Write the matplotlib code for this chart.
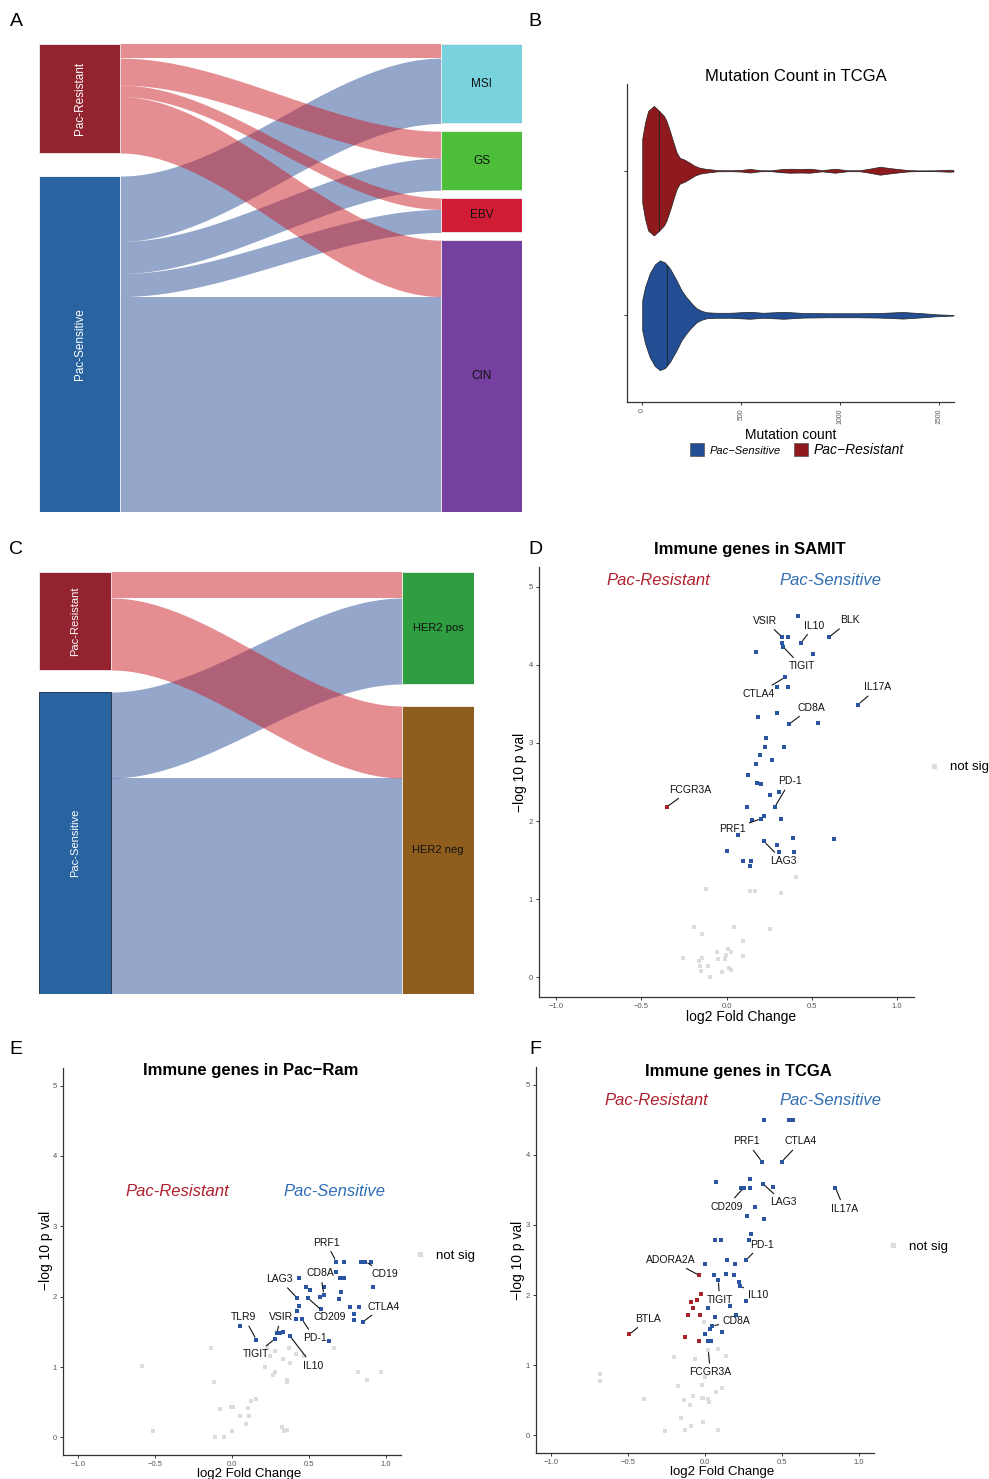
import numpy as np
import matplotlib
matplotlib.use('Agg')
import matplotlib.pyplot as plt
from matplotlib.patches import Rectangle, Patch
from matplotlib.lines import Line2D

plt.rcParams['font.family'] = ['Liberation Sans', 'DejaVu Sans']

#********************** A: response group -> TCGA subtype ******************
a_groups = ['Pac-Resistant', 'Pac-Sensitive']
a_subtypes = ['MSI', 'GS', 'EBV', 'CIN']
a_resistant = [11, 21, 9, 44]
a_sensitive = [51, 25, 18, 168]

#********************** C: response group -> HER2 status *******************
c_groups = ['Pac-Resistant', 'Pac-Sensitive']
c_her2 = ['HER2 pos', 'HER2 neg']
c_resistant = [13, 36]
c_sensitive = [43, 108]

#********************** B: mutation count violins (density outline) ********
res_count = [0, 14, 30, 59, 86, 110, 123, 140, 157, 175, 190, 215, 241, 265, 291,
             320, 342, 380, 450, 500, 545, 600, 650, 700, 748, 800, 849, 910,
             975, 1040, 1100, 1150, 1203, 1260, 1338, 1400, 1480, 1552, 1575]
res_width = [32, 48, 60, 65, 60, 55, 50, 40, 29, 18, 13, 11, 8, 5, 3,
             2, 1.5, 0.6, 0.5, 0.8, 1.8, 0.5, 0.4, 1.5, 2, 1.8, 2, 0.6,
             2, 0.5, 0.5, 2, 4, 2.5, 0.8, 0.3, 0.4, 1, 0.8]
res_median = 86
sens_count = [0, 14, 38, 64, 89, 115, 140, 174, 199, 224, 250, 275, 300, 326,
              376, 444, 545, 612, 714, 815, 949, 1084, 1202, 1320, 1421, 1489, 1575]
sens_width = [15, 28, 42, 51, 55, 53, 47, 35, 25, 18, 12, 7, 4.5, 3,
              2.5, 2.5, 3.5, 2.5, 3.5, 2.3, 2, 2, 2.3, 3.3, 2, 1, 0.3]
sens_median = 126

#********************** D: SAMIT volcano *******************************
samit_sens_fc = [0.417, 0.328, 0.363, 0.324, 0.332, 0.437, 0.600, 0.172, 0.509, 0.343,
                 0.296, 0.359, 0.772, 0.187, 0.296, 0.367, 0.534, 0.230, 0.226, 0.339,
                 0.195, 0.267, 0.175, 0.129, 0.181, 0.203, 0.308, 0.254, 0.119, 0.283,
                 0.148, 0.203, 0.222, 0.318, 0.070, 0.220, 0.392, 0.628, 0.298, 0.004,
                 0.308, 0.396, 0.096, 0.146, 0.139]
samit_sens_p = [4.62, 4.35, 4.35, 4.28, 4.23, 4.28, 4.35, 4.16, 4.14, 3.84,
                3.71, 3.71, 3.49, 3.33, 3.38, 3.24, 3.26, 3.06, 2.95, 2.95,
                2.84, 2.78, 2.73, 2.59, 2.49, 2.47, 2.37, 2.33, 2.18, 2.18,
                2.01, 2.03, 2.06, 2.03, 1.82, 1.74, 1.78, 1.77, 1.69, 1.62,
                1.61, 1.61, 1.49, 1.49, 1.43]
samit_res_fc = [-0.351]
samit_res_p = [2.18]
samit_ns_fc = [0.406, -0.123, 0.140, 0.168, 0.318, -0.191, 0.045, 0.257, -0.144, 0.099,
               -0.257, -0.144, -0.054, 0.008, 0.027, -0.004, -0.049, -0.006, 0.099, -0.161,
               -0.156, -0.107, -0.150, -0.025, 0.016, 0.029, -0.094]
samit_ns_p = [1.28, 1.13, 1.10, 1.10, 1.08, 0.64, 0.64, 0.62, 0.56, 0.46,
              0.25, 0.25, 0.32, 0.37, 0.32, 0.29, 0.24, 0.23, 0.28, 0.21,
              0.15, 0.15, 0.08, 0.07, 0.12, 0.10, 0.00]
samit_genes = ['VSIR', 'TIGIT', 'IL10', 'BLK', 'CTLA4', 'IL17A', 'CD8A', 'PD-1',
               'FCGR3A', 'PRF1', 'LAG3']
samit_gene_fc = [0.328, 0.332, 0.437, 0.600, 0.343, 0.772, 0.367, 0.283, -0.351, 0.203, 0.220]
samit_gene_p = [4.35, 4.23, 4.28, 4.35, 3.84, 3.49, 3.24, 2.18, 2.18, 2.03, 1.74]

#********************** E: Pac-Ram volcano *****************************
pacram_sens_fc = [0.678, 0.732, 0.842, 0.868, 0.905, 0.678, 0.704, 0.727, 0.435, 0.916,
                  0.479, 0.505, 0.598, 0.710, 0.598, 0.570, 0.699, 0.424, 0.494, 0.435,
                  0.424, 0.578, 0.769, 0.829, 0.792, 0.792, 0.851, 0.414, 0.455, 0.050,
                  0.158, 0.292, 0.310, 0.331, 0.279, 0.377, 0.634]
pacram_sens_p = [2.50, 2.50, 2.50, 2.50, 2.50, 2.35, 2.26, 2.26, 2.26, 2.14,
                 2.14, 2.10, 2.14, 2.07, 2.03, 1.99, 1.97, 1.98, 1.98, 1.87,
                 1.80, 1.82, 1.85, 1.85, 1.75, 1.67, 1.64, 1.68, 1.68, 1.59,
                 1.39, 1.48, 1.49, 1.50, 1.40, 1.44, 1.37]
pacram_ns_fc = [-0.138, -0.584, -0.117, -0.513, -0.110, -0.052, 0.003, -0.080, -0.008, 0.006,
                0.050, 0.104, 0.108, 0.093, 0.121, 0.158, 0.227, 0.277, 0.249, 0.217,
                0.277, 0.264, 0.331, 0.377, 0.370, 0.418, 0.466, 0.355, 0.361, 0.325,
                0.336, 0.360, 0.662, 0.821, 0.881, 0.970]
pacram_ns_p = [1.27, 1.01, 0.79, 0.09, 0.00, 0.00, 0.09, 0.41, 0.43, 0.43,
               0.30, 0.42, 0.31, 0.19, 0.52, 0.55, 1.29, 1.23, 1.16, 1.00,
               0.93, 0.88, 1.12, 1.06, 1.27, 1.19, 1.16, 0.82, 0.79, 0.15,
               0.09, 0.10, 1.27, 0.93, 0.82, 0.93]
pacram_genes = ['PRF1', 'CD19', 'CD8A', 'LAG3', 'CD209', 'CTLA4', 'TLR9', 'VSIR',
                'PD-1', 'TIGIT', 'IL10']
pacram_gene_fc = [0.678, 0.868, 0.598, 0.424, 0.494, 0.851, 0.158, 0.292, 0.455, 0.279, 0.377]
pacram_gene_p = [2.50, 2.50, 2.03, 1.98, 1.98, 1.64, 1.39, 1.48, 1.68, 1.40, 1.44]

#********************** F: TCGA volcano ********************************
tcga_sens_fc = [0.386, 0.547, 0.571, 0.371, 0.499, 0.074, 0.293, 0.236, 0.252, 0.293,
                0.375, 0.441, 0.849, 0.326, 0.274, 0.384, 0.300, 0.065, 0.104, 0.289,
                0.267, 0.143, 0.000, 0.197, 0.059, 0.139, 0.191, 0.087, 0.219, 0.228,
                0.267, 0.021, 0.160, 0.067, 0.204, 0.046, 0.032, 0.110, -0.002, 0.019,
                0.039]
tcga_sens_p = [4.50, 4.50, 4.50, 3.90, 3.90, 3.61, 3.65, 3.53, 3.53, 3.53,
               3.59, 3.54, 3.53, 3.26, 3.12, 3.09, 2.87, 2.78, 2.79, 2.78,
               2.50, 2.50, 2.44, 2.44, 2.28, 2.30, 2.28, 2.21, 2.19, 2.13,
               1.92, 1.81, 1.85, 1.69, 1.72, 1.56, 1.52, 1.48, 1.44, 1.34,
               1.34]
tcga_res_fc = [-0.037, -0.028, -0.052, -0.091, -0.076, -0.109, -0.033, -0.493, -0.128, -0.037]
tcga_res_p = [2.28, 2.01, 1.93, 1.90, 1.82, 1.72, 1.71, 1.44, 1.40, 1.34]
tcga_ns_fc = [-0.009, 0.021, 0.082, 0.137, -0.200, -0.065, -0.684, -0.684, 0.000, -0.176,
              -0.022, 0.108, 0.069, -0.400, -0.076, -0.137, -0.022, -0.011, 0.017, 0.024,
              -0.100, -0.159, -0.013, -0.089, -0.128, -0.261, 0.082]
tcga_ns_p = [1.61, 1.22, 1.23, 1.13, 1.12, 1.09, 0.88, 0.78, 0.83, 0.71,
             0.72, 0.67, 0.62, 0.52, 0.56, 0.50, 0.53, 0.53, 0.52, 0.47,
             0.44, 0.25, 0.19, 0.13, 0.08, 0.06, 0.08]
tcga_genes = ['PRF1', 'CTLA4', 'CD209', 'LAG3', 'IL17A', 'PD-1', 'ADORA2A', 'IL10',
              'TIGIT', 'BTLA', 'CD8A', 'FCGR3A']
tcga_gene_fc = [0.371, 0.499, 0.252, 0.375, 0.849, 0.267, -0.037, 0.228, 0.087, -0.493, 0.046, 0.021]
tcga_gene_p = [3.90, 3.90, 3.53, 3.59, 3.53, 2.50, 2.28, 2.13, 2.21, 1.44, 1.56, 1.22]

# label placement (data coords of the text)
samit_text = [(0.226, 4.56), (0.441, 3.98), (0.515, 4.50), (0.725, 4.57), (0.187, 3.63),
              (0.889, 3.71), (0.495, 3.45), (0.373, 2.51), (-0.212, 2.40), (0.032, 1.90),
              (0.333, 1.49)]
pacram_text = [(0.613, 2.77), (0.998, 2.32), (0.576, 2.33), (0.308, 2.25), (0.634, 1.71),
               (0.985, 1.86), (0.078, 1.71), (0.316, 1.71), (0.537, 1.41), (0.154, 1.18),
               (0.526, 1.02)]
tcga_text = [(0.271, 4.19), (0.625, 4.19), (0.141, 3.26), (0.510, 3.32), (0.906, 3.23),
             (0.369, 2.72), (-0.222, 2.50), (0.343, 2.00), (0.095, 1.93), (-0.369, 1.66),
             (0.206, 1.63), (0.035, 0.90)]

RES_NODE = '#93232E'
SENS_NODE = '#2963A0'
RES_FLOW = '#CB1F27'
SENS_FLOW = '#2B4F95'
BLUE_PT = '#2A55A3'
RED_PT = '#A8232B'
GRAY_PT = '#DCDCDC'
RES_TXT = '#B0202E'
SENS_TXT = '#2E6DB4'

W, H = 989, 1479
fig = plt.figure(figsize=(W / 100, H / 100), dpi=100)


def px_axes(l, t, r, b):
    return fig.add_axes([l / W, 1 - b / H, (r - l) / W, (b - t) / H])


def alluvial(ax, flows, left_names, right_names, right_cols, gap_l, gap_r, w,
             fs=8, sens_edge='white'):
    flows = np.array(flows, dtype=float)
    lt = flows.sum(1)
    rt = flows.sum(0)
    total = max(lt.sum() + gap_l * (len(lt) - 1), rt.sum() + gap_r * (len(rt) - 1))
    ltop = np.concatenate([[0], np.cumsum(lt)[:-1]]) + gap_l * np.arange(len(lt))
    rtop = np.concatenate([[0], np.cumsum(rt)[:-1]]) + gap_r * np.arange(len(rt))
    t = np.linspace(0, 1, 100)
    s = 3 * t ** 2 - 2 * t ** 3
    xs = w + (1 - 2 * w) * t
    flow_cols = [RES_FLOW, SENS_FLOW]
    for i in [1, 0]:
        for j in range(flows.shape[1]):
            y0 = ltop[i] + flows[i, :j].sum()
            y1 = rtop[j] + flows[:i, j].sum()
            top = y0 + (y1 - y0) * s
            ax.fill_between(xs, top, top + flows[i, j], color=flow_cols[i],
                            alpha=0.5, lw=0)
    node_cols = [RES_NODE, SENS_NODE]
    edges = ['#EEEEEE', sens_edge]
    for i, name in enumerate(left_names):
        ax.add_patch(Rectangle((0, ltop[i]), w, lt[i], facecolor=node_cols[i],
                               edgecolor=edges[i], lw=0.6))
        ax.text(w / 2, ltop[i] + lt[i] / 2, name, rotation=90, color='white',
                ha='center', va='center', fontsize=fs)
    for j, name in enumerate(right_names):
        ax.add_patch(Rectangle((1 - w, rtop[j]), w, rt[j], facecolor=right_cols[j],
                               edgecolor='#EEEEEE', lw=0.6))
        ax.text(1 - w / 2, rtop[j] + rt[j] / 2, name, color='#111111',
                ha='center', va='center', fontsize=fs)
    ax.set_xlim(0, 1)
    ax.set_ylim(total, 0)
    ax.axis('off')


def style_axes(ax):
    for sp in ['top', 'right']:
        ax.spines[sp].set_visible(False)
    for sp in ['left', 'bottom']:
        ax.spines[sp].set_color('#333333')
        ax.spines[sp].set_linewidth(0.9)
    ax.tick_params(axis='both', length=2.5, width=0.7, color='#333333',
                   labelsize=5.5, labelcolor='#555555', pad=2)


def volcano(ax, sens, res, ns, genes, gfc, gp, texts, title, title_xy, ann, leg_y,
            xlab_xy, ylab_xy, xlab_fs=10):
    ax.scatter(ns[0], ns[1], marker='s', s=9, color=GRAY_PT, lw=0, zorder=2)
    ax.scatter(sens[0], sens[1], marker='s', s=9, color=BLUE_PT, lw=0, zorder=3)
    if res is not None:
        ax.scatter(res[0], res[1], marker='s', s=9, color=RED_PT, lw=0, zorder=3)
    for g, x, y, (tx, ty) in zip(genes, gfc, gp, texts):
        ax.annotate(g, xy=(x, y), xytext=(tx, ty), ha='center', va='center',
                    fontsize=7.5, color='#111111', zorder=4,
                    arrowprops=dict(arrowstyle='-', lw=0.8, color='#111111',
                                    shrinkA=1, shrinkB=2))
    ax.set_xlim(-1.1, 1.1)
    ax.set_ylim(-0.25, 5.25)
    ax.set_xticks([-1.0, -0.5, 0.0, 0.5, 1.0])
    ax.set_xticklabels(['\u22121.0', '\u22120.5', '0.0', '0.5', '1.0'])
    ax.set_yticks([0, 1, 2, 3, 4, 5])
    style_axes(ax)
    ax.set_xlabel('log2 Fold Change', fontsize=xlab_fs, va='center')
    ax.set_ylabel('\u2212log 10 p val', fontsize=10, va='center')
    ax.xaxis.set_label_coords(*xlab_xy)
    ax.yaxis.set_label_coords(*ylab_xy)
    ax.text(title_xy[0], title_xy[1], title, transform=ax.transAxes, ha='center',
            va='center', fontsize=12, fontweight='bold')
    ax.text(ann[0], ann[2], 'Pac-Resistant', color=RES_TXT, style='italic',
            fontsize=12, ha='center', va='center')
    ax.text(ann[1], ann[2], 'Pac-Sensitive', color=SENS_TXT, style='italic',
            fontsize=12, ha='center', va='center')
    h = Line2D([], [], marker='s', ls='', color=GRAY_PT, markersize=3.5)
    ax.legend([h], ['not sig'], loc='center left', bbox_to_anchor=(1.04, leg_y),
              frameon=False, fontsize=9.5, handlelength=0.8, handletextpad=0.8,
              borderaxespad=0, borderpad=0)


# ---------------- A ----------------
axA = px_axes(39, 44, 522, 512)
alluvial(axA, [a_resistant, a_sensitive], a_groups, a_subtypes,
         ['#79D3DE', '#4CBE3A', '#D01C34', '#7540A0'], 18, 6, 81 / 483, fs=8.5)

# ---------------- C ----------------
axC = px_axes(39, 572, 474, 994)
alluvial(axC, [c_resistant, c_sensitive], c_groups, c_her2,
         ['#2E9E40', '#8F5E1E'], 11, 11, 72 / 435, fs=8, sens_edge='#1A2A40')

# ---------------- B ----------------
axB = px_axes(627, 84, 954, 402)
spacing = 145.0
for c, xs, ws, med, col in [(2, res_count, res_width, res_median, '#8E1A1E'),
                             (1, sens_count, sens_width, sens_median, '#234E94')]:
    half = np.array(ws) / spacing
    axB.fill_between(xs, c - half, c + half, color=col, lw=0.5, edgecolor='#222222')
    hm = np.interp(med, xs, half)
    axB.plot([med, med], [c - hm, c + hm], color='#222222', lw=0.6)
axB.set_xlim(-77, 1578)
axB.set_ylim(0.4, 2.6)
axB.set_yticks([1, 2])
axB.set_yticklabels([])
axB.set_xticks([0, 500, 1000, 1500])
style_axes(axB)
axB.tick_params(axis='x', labelrotation=90, labelsize=5)
axB.set_xlabel('Mutation count', fontsize=10, labelpad=3)
axB.text(0.515, 1.023, 'Mutation Count in TCGA', transform=axB.transAxes,
         ha='center', va='center', fontsize=12)
legB = axB.legend([Patch(facecolor='#234E94', edgecolor='#555555', lw=0.5),
                   Patch(facecolor='#8E1A1E', edgecolor='#555555', lw=0.5)],
                  ['Pac\u2212Sensitive', 'Pac\u2212Resistant'], ncol=2,
                  loc='center', bbox_to_anchor=(0.52, -0.15), frameon=False,
                  handlelength=1.0, handleheight=1.1, handletextpad=0.4,
                  columnspacing=1.0, borderpad=0)
legB.get_texts()[0].set_fontsize(8)
legB.get_texts()[1].set_fontsize(10)
for t in legB.get_texts():
    t.set_style('italic')

# ---------------- D ----------------
axD = px_axes(539, 567, 914, 997)
volcano(axD, (samit_sens_fc, samit_sens_p), (samit_res_fc, samit_res_p),
        (samit_ns_fc, samit_ns_p), samit_genes, samit_gene_fc, samit_gene_p,
        samit_text, 'Immune genes in SAMIT', (0.562, 1.041), (-0.402, 0.612, 5.08), 0.534,
        (0.539, -0.047), (-0.05, 0.523))

# ---------------- E ----------------
axE = px_axes(63, 1068, 401, 1455)
volcano(axE, (pacram_sens_fc, pacram_sens_p), None, (pacram_ns_fc, pacram_ns_p),
        pacram_genes, pacram_gene_fc, pacram_gene_p, pacram_text,
        'Immune genes in Pac\u2212Ram', (0.556, 0.993), (-0.356, 0.665, 3.49), 0.515,
        (0.55, -0.048), (-0.05, 0.53), xlab_fs=9.5)

# ---------------- F ----------------
axF = px_axes(536, 1067, 874, 1453)
volcano(axF, (tcga_sens_fc, tcga_sens_p), (tcga_res_fc, tcga_res_p),
        (tcga_ns_fc, tcga_ns_p), tcga_genes, tcga_gene_fc, tcga_gene_p, tcga_text,
        'Immune genes in TCGA', (0.598, 0.989), (-0.314, 0.816, 4.77), 0.534,
        (0.55, -0.05), (-0.053, 0.5), xlab_fs=9.5)

# panel letters
for letter, x, y in [('A', 16, 22), ('B', 535, 22), ('C', 16, 549),
                     ('D', 535, 549), ('E', 16, 1050), ('F', 535, 1050)]:
    fig.text(x / W, 1 - y / H, letter, fontsize=14, ha='center', va='center')

fig.savefig('out.png', dpi=100)
